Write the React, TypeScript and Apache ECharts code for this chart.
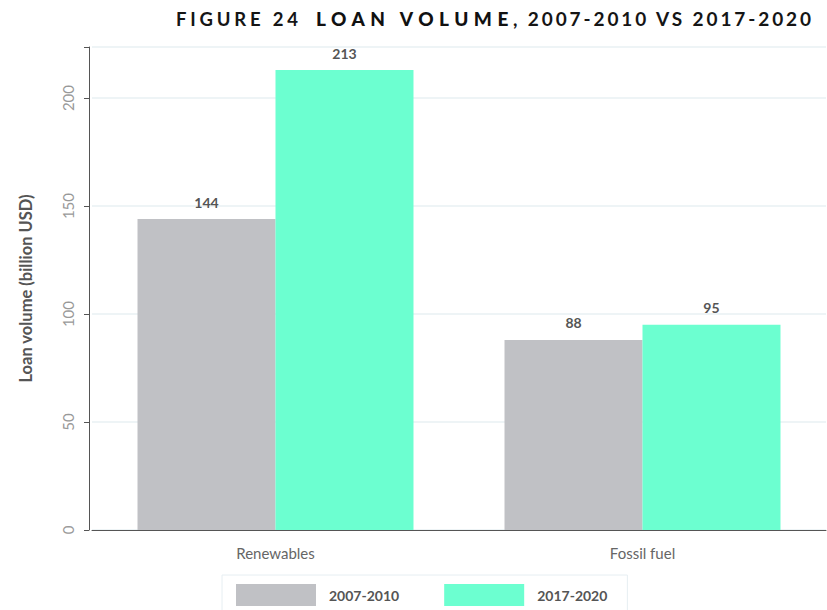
import React, { useEffect, useRef } from "react";
import * as echarts from "echarts";

const categories = ["Renewables", "Fossil fuel"];
const seriesNames = ["2007-2010", "2017-2020"];
const values2007 = [144, 88];
const values2017 = [213, 95];
const yTicks = [0, 50, 100, 150, 200];
const titleParts = ["FIGURE 24", "LOAN VOLUME", ", 2007-2010 VS 2017-2020"];

export default function App() {
  const ref = useRef<HTMLDivElement>(null);
  useEffect(() => {
    if (!ref.current) return;
    const chart = echarts.init(ref.current, null, { renderer: "svg" });
    const font = "Lato, 'Open Sans', sans-serif";
    chart.setOption({
      animation: false,
      textStyle: { fontFamily: font },
      graphic: [
        { type: "text", id: "t1", left: 176, top: 9, style: { text: titleParts[0], font: `bold 18.5px ${font}`, fill: "#151515" } },
        { type: "text", id: "t2", left: 316, top: 9, style: { text: titleParts[1], font: `900 19px ${font}`, fill: "#111" } },
        { type: "text", id: "t3", left: 513, top: 9, style: { text: titleParts[2], font: `bold 19px ${font}`, fill: "#151515" } },
      ],
      grid: { left: 92, right: 1, top: 47, bottom: 80, containLabel: false },
      legend: {
        top: 575,
        left: 222,
        data: seriesNames,
        itemWidth: 80,
        itemHeight: 22,
        itemGap: 45,
        padding: [9, 20, 14, 14],
        borderColor: "#e6eef2",
        borderWidth: 1,
        borderRadius: 0,
        icon: "rect",
        textStyle: { fontWeight: "bold", fontSize: 14, color: "#555", padding: [0, 0, 0, 8] },
      },
      xAxis: {
        type: "category",
        data: categories,
        axisLine: { lineStyle: { color: "#555", width: 1 } },
        axisTick: { show: false },
        axisLabel: { fontSize: 15, color: "#666", margin: 15 },
      },
      yAxis: {
        type: "value",
        min: 0,
        max: 223.65,
        interval: 50,
        offset: 3,
        name: "Loan volume (billion USD)",
        nameLocation: "middle",
        nameGap: 55,
        nameTextStyle: { fontWeight: "bold", fontSize: 16.5, color: "#555" },
        axisLine: { show: true, lineStyle: { color: "#555", width: 1 } },
        axisTick: { show: true, length: 5, lineStyle: { color: "#555" } },
        axisLabel: {
          rotate: 90,
          fontSize: 15,
          color: "#999",
          margin: 14,
          formatter: (v: number) => (yTicks.includes(v) ? String(v) : ""),
        },
        splitLine: { show: true, lineStyle: { color: "#e9f0f3", width: 1.5 } },
      },
      series: [
        {
          name: seriesNames[0],
          type: "bar",
          data: values2007,
          barGap: "0%",
          barCategoryGap: "24.8%",
          itemStyle: { color: "#c0c1c5" },
          label: { show: true, position: "top", distance: 10, fontWeight: "bold", fontSize: 14, color: "#555" },
        },
        {
          name: seriesNames[1],
          type: "bar",
          data: values2017,
          barGap: "0%",
          barCategoryGap: "24.8%",
          itemStyle: { color: "#6cffd0" },
          label: { show: true, position: "top", distance: 10, fontWeight: "bold", fontSize: 14, color: "#555" },
        },
      ],
    });
    const spacing: Record<string, string> = {
      [titleParts[0]]: "3.8px",
      [titleParts[1]]: "5.5px",
      [titleParts[2]]: "2.9px",
    };
    ref.current.querySelectorAll("text").forEach((t) => {
      const s = spacing[t.textContent || ""];
      if (s) t.setAttribute("letter-spacing", s);
    });
    return () => chart.dispose();
  }, []);
  return <div ref={ref} style={{ width: 827, height: 610, position: "absolute", left: 0, top: 0 }} />;
}
